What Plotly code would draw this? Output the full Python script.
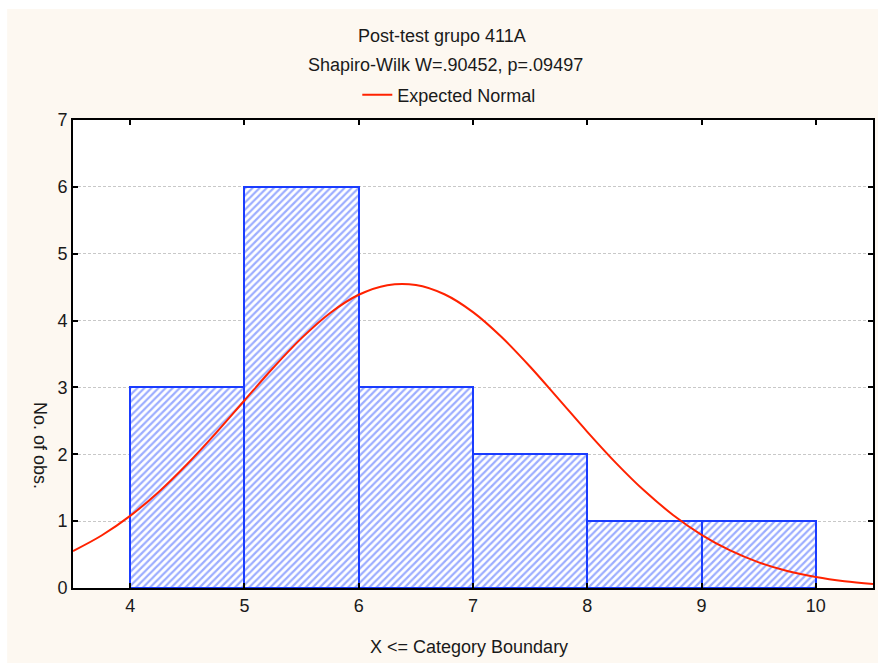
import plotly.graph_objects as go

# Histogram data (category boundaries and counts)
bin_lower = [4, 5, 6, 7, 8, 9]
bin_upper = [5, 6, 7, 8, 9, 10]
counts = [3, 6, 3, 2, 1, 1]

# Expected normal curve
curve_x = [3.5, 3.75, 4.0, 4.25, 4.5, 4.75, 5.0, 5.25, 5.5, 5.75, 6.0, 6.25, 6.5,
           6.75, 7.0, 7.25, 7.5, 7.75, 8.0, 8.25, 8.5, 8.75, 9.0, 9.25, 9.5, 9.75,
           10.0, 10.25, 10.5]
curve_y = [0.553, 0.785, 1.079, 1.437, 1.855, 2.317, 2.805, 3.290, 3.737, 4.114,
           4.386, 4.530, 4.533, 4.394, 4.127, 3.754, 3.309, 2.825, 2.336, 1.872,
           1.453, 1.093, 0.796, 0.562, 0.384, 0.254, 0.163, 0.101, 0.061]

x_ticks = [4, 5, 6, 7, 8, 9, 10]
y_ticks = [0, 1, 2, 3, 4, 5, 6, 7]

title_line1 = "Post-test grupo 411A"
title_line2 = "Shapiro-Wilk W=.90452, p=.09497"
x_title = "X <= Category Boundary"
y_title = "No. of obs."

FONT = "Liberation Sans, Arial, sans-serif"
FS = 18
BLUE = "#1a3cff"
RED = "#ff2200"

W, H = 878, 663
ML, MR, MT, MB = 73, 3, 120, 75
PW = W - ML - MR
PH = H - MT - MB

def px_x(p):
    return (p - ML) / PW

def px_y(p):
    return (H - MB - p) / PH

centers = [(a + b) / 2 for a, b in zip(bin_lower, bin_upper)]
widths = [b - a for a, b in zip(bin_lower, bin_upper)]

fig = go.Figure()
fig.add_trace(go.Bar(
    x=centers, y=counts, width=widths,
    marker=dict(color="white",
                line=dict(color=BLUE, width=2),
                pattern=dict(shape="/", fgcolor="#3a5cff", bgcolor="white",
                             size=5, solidity=0.45)),
    showlegend=False, hoverinfo="skip",
))
fig.add_trace(go.Scatter(
    x=curve_x, y=curve_y, mode="lines", line=dict(color=RED, width=2, shape="spline"),
    name="Expected Normal", showlegend=True,
))

fig.update_layout(
    width=W, height=H,
    margin=dict(l=ML, r=MR, t=MT, b=MB),
    paper_bgcolor="white", plot_bgcolor="white",
    font=dict(family=FONT, size=FS, color="#1a1a1a"),
    bargap=0,
    legend=dict(x=px_x(358), y=px_y(95), xanchor="left", yanchor="middle",
                orientation="h", bgcolor="rgba(0,0,0,0)", font=dict(size=FS)),
    shapes=[
        dict(type="rect", xref="paper", yref="paper", layer="below",
             x0=px_x(7), x1=px_x(W + 5), y0=px_y(H + 5), y1=px_y(9),
             fillcolor="#fdf8f1", line=dict(width=0)),
        dict(type="rect", xref="paper", yref="paper", layer="below",
             x0=0, x1=1, y0=0, y1=1, fillcolor="white", line=dict(width=0)),
    ],
    annotations=[
        dict(text=title_line1, x=px_x(443), y=px_y(36), xref="paper", yref="paper",
             showarrow=False, xanchor="center", yanchor="middle", font=dict(size=FS)),
        dict(text=title_line2, x=px_x(446), y=px_y(65), xref="paper", yref="paper",
             showarrow=False, xanchor="center", yanchor="middle", font=dict(size=FS)),
        dict(text=x_title, x=px_x(470), y=px_y(647), xref="paper", yref="paper",
             showarrow=False, xanchor="center", yanchor="middle", font=dict(size=FS)),
        dict(text=y_title, x=px_x(40), y=px_y(445), xref="paper", yref="paper",
             showarrow=False, xanchor="center", yanchor="middle", textangle=90,
             font=dict(size=FS)),
    ],
)

fig.update_xaxes(
    range=[3.5, 10.5], tickvals=x_ticks, ticks="inside", ticklen=5, tickwidth=1.5,
    tickcolor="black", showline=True, linecolor="black", linewidth=2,
    mirror="allticks", showgrid=False, zeroline=False,
)
fig.update_yaxes(
    range=[0, 7], tickvals=y_ticks, ticks="inside", ticklen=5, tickwidth=1.5,
    tickcolor="black", showline=True, linecolor="black", linewidth=2,
    mirror="allticks", showgrid=True, gridcolor="#c8c8c8", gridwidth=1,
    griddash="3px,2px", zeroline=False,
)

fig.write_html("out.html")
